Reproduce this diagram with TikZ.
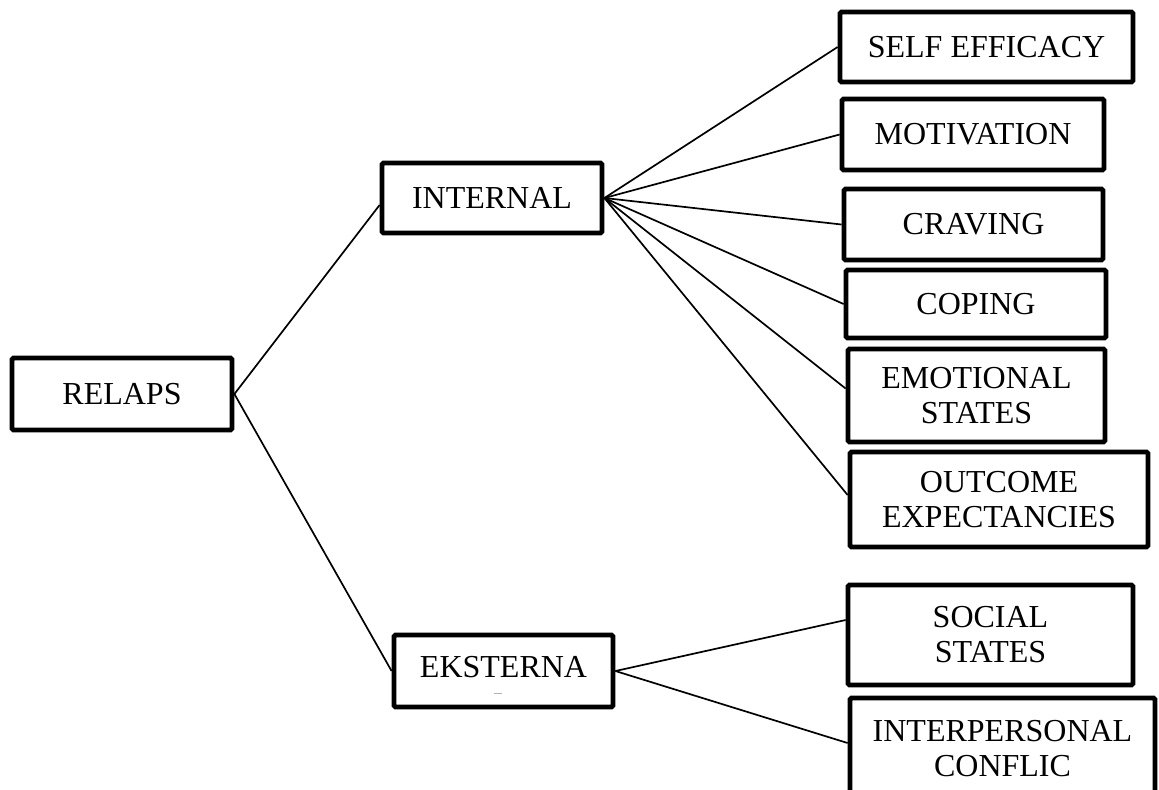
\documentclass[tikz,border=0pt]{standalone}
\usepackage{fontspec}
\setmainfont{Liberation Serif}
\begin{document}
\begin{tikzpicture}[x=0.5pt,y=-0.5pt,
  box/.style={draw, line width=2.4pt, rounded corners=0.8pt, fill=white, align=center,
    inner sep=0pt, font=\fontsize{16}{17.5}\selectfont},
  link/.style={line width=0.85pt}]
\clip (0,0) rectangle (1159,789);
\fill[white] (0,0) rectangle (1159,789);
% nodes
\node[box, minimum width=110pt, minimum height=36pt] (relaps) at (122,394) {RELAPS};
\node[box, minimum width=110pt, minimum height=35pt] (internal) at (492,198) {INTERNAL};
\node[box, minimum width=109.5pt, minimum height=36pt] (eksterna) at (503.5,671) {};
\node[font=\fontsize{16}{17.5}\selectfont] (eksternatext) at (503.5,667) {EKSTERNA};
\draw[gray!60, line width=0.5pt] (494,693) -- (502,693);
\node[box, minimum width=146.5pt, minimum height=35pt] (selfeff) at (986.5,47) {SELF EFFICACY};
\node[box, minimum width=131pt, minimum height=35.5pt] (motiv) at (973,134.5) {MOTIVATION};
\node[box, minimum width=129.5pt, minimum height=35.5pt] (craving) at (973.5,224.5) {CRAVING};
\node[box, minimum width=130pt, minimum height=34pt] (coping) at (976,304) {COPING};
\node[box, minimum width=128.5pt, minimum height=46.5pt] (emot) at (976.5,395.5) {EMOTIONAL\\STATES};
\node[box, minimum width=149pt, minimum height=47.5pt] (outcome) at (999,499.5) {OUTCOME\\EXPECTANCIES};
\node[box, minimum width=142.5pt, minimum height=50pt] (social) at (990.5,635) {SOCIAL\\STATES};
\node[box, minimum width=152.5pt, minimum height=51pt] (interp) at (1002.5,749) {INTERPERSONAL\\CONFLIC};
% connectors
\draw[link] (relaps.east) -- ([yshift=-3.5pt]internal.west);
\draw[link] (relaps.east) -- (eksterna.west);
\draw[link] (internal.east) -- (selfeff.west);
\draw[link] (internal.east) -- (motiv.west);
\draw[link] (internal.east) -- (craving.west);
\draw[link] (internal.east) -- (coping.west);
\draw[link] (internal.east) -- ([yshift=3.5pt]emot.west);
\draw[link] (internal.east) -- ([yshift=2.25pt]outcome.west);
\draw[link] (eksterna.east) -- ([yshift=7.5pt]social.west);
\draw[link] (eksterna.east) -- ([yshift=3pt]interp.west);
\end{tikzpicture}
\end{document}
